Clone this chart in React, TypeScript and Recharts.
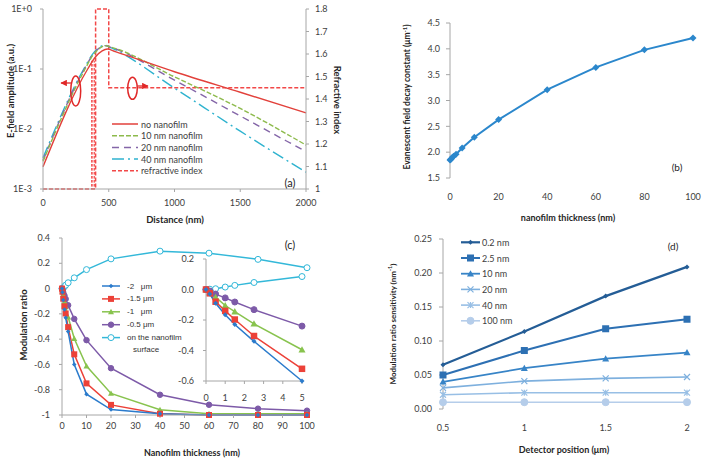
import { LineChart, Line, XAxis, YAxis, ReferenceArea } from "recharts";

const FONT = "Lato, 'Open Sans', sans-serif";
const TICK = { fontSize: 9, fill: "#404040", fontFamily: FONT };
const AXIS = "#a6a6a6";
const MU = "\u03bc";

// (a) E-field amplitude vs distance
const distNo = [0, 340, 400, 450, 490, 550, 1000, 1500, 2000];
const ampNo = [0.00235, 0.1, 0.16, 0.2, 0.215, 0.195, 0.09, 0.041, 0.0186];
const dist10 = [0, 320, 380, 430, 470, 520, 1000, 1500, 2000];
const amp10 = [0.0029, 0.1, 0.17, 0.22, 0.245, 0.23, 0.074, 0.022, 0.0054];
const dist20 = [0, 320, 380, 430, 470, 520, 1000, 1500, 2000];
const amp20 = [0.003, 0.105, 0.175, 0.225, 0.245, 0.228, 0.065, 0.0165, 0.0042];
const dist40 = [0, 310, 380, 430, 470, 520, 1000, 1500, 2000];
const amp40 = [0.0033, 0.1, 0.18, 0.23, 0.25, 0.225, 0.048, 0.0092, 0.0019];
const distIdx = [0, 365, 400, 400, 500, 500, 2000];
const refIdx = [1, 1, 1, 1.8, 1.8, 1.45, 1.45];

// (b) decay constant vs nanofilm thickness
const thickness = [0, 0.2, 0.5, 1, 1.5, 2.5, 5, 10, 20, 40, 60, 80, 100];
const decayConst = [1.85, 1.86, 1.87, 1.9, 1.92, 1.96, 2.08, 2.29, 2.63, 3.21, 3.64, 3.98, 4.21];

// (c) modulation ratio, detector positions
const mod2 = [0, -0.03, -0.09, -0.165, -0.23, -0.34, -0.6, -0.835, -0.957, -0.99, -1, -1, -1];
const mod15 = [0, -0.025, -0.08, -0.14, -0.197, -0.305, -0.52, -0.75, -0.92, -0.99, -1, -1, -1];
const mod1 = [0, -0.02, -0.05, -0.105, -0.145, -0.225, -0.395, -0.613, -0.829, -0.958, -0.99, -0.99, -0.99];
const mod05 = [0, -0.01, -0.03, -0.055, -0.082, -0.132, -0.24, -0.408, -0.63, -0.84, -0.919, -0.95, -0.966];
const modSurf = [0, 0.002, 0.005, 0.016, 0.027, 0.046, 0.085, 0.15, 0.235, 0.296, 0.28, 0.231, 0.165];

// (d) sensitivity vs detector position
const detPos = [0.5, 1, 1.5, 2];
const sens02 = [0.065, 0.114, 0.166, 0.209];
const sens25 = [0.05, 0.086, 0.118, 0.132];
const sens10 = [0.04, 0.06, 0.074, 0.083];
const sens20 = [0.031, 0.041, 0.045, 0.047];
const sens40 = [0.021, 0.024, 0.024, 0.024];
const sens100 = [0.01, 0.01, 0.01, 0.01];

const zip = (xs: number[], ys: number[]) => xs.map((x, i) => ({ x, y: ys[i] }));

const rowsC = thickness.map((t, i) => ({
  t, m2: mod2[i], m15: mod15[i], m1: mod1[i], m05: mod05[i], s: modSurf[i],
}));
const rowsInset = rowsC.filter((r) => r.t <= 5);
const rowsD = detPos.map((p, i) => ({
  p, a: sens02[i], b: sens25[i], c: sens10[i], d: sens20[i], e: sens40[i], f: sens100[i],
}));

type MarkProps = { cx?: number; cy?: number; shape: string; color: string; size: number; fill?: string };

function Mark({ cx, cy, shape, color, size, fill }: MarkProps) {
  if (cx == null || cy == null) return null;
  const s = size / 2;
  switch (shape) {
    case "diamond":
      return <path d={`M${cx},${cy - s}L${cx + s},${cy}L${cx},${cy + s}L${cx - s},${cy}Z`} fill={color} />;
    case "square":
      return <rect x={cx - s} y={cy - s} width={size} height={size} fill={color} />;
    case "triangle":
      return <path d={`M${cx},${cy - s}L${cx + s},${cy + s * 0.8}L${cx - s},${cy + s * 0.8}Z`} fill={color} />;
    case "circle":
      return <circle cx={cx} cy={cy} r={s} fill={fill ?? color} stroke={color} strokeWidth={1} />;
    case "x":
      return <path d={`M${cx - s},${cy - s}L${cx + s},${cy + s}M${cx - s},${cy + s}L${cx + s},${cy - s}`} stroke={color} strokeWidth={1.2} />;
    case "star":
      return (
        <path
          d={`M${cx - s},${cy - s}L${cx + s},${cy + s}M${cx - s},${cy + s}L${cx + s},${cy - s}M${cx},${cy - s}L${cx},${cy + s}`}
          stroke={color}
          strokeWidth={1.2}
        />
      );
    default:
      return null;
  }
}

const dotOf = (shape: string, color: string, size: number, fill?: string) => (p: any) => (
  <Mark key={`m${p.index}`} cx={p.cx} cy={p.cy} shape={shape} color={color} size={size} fill={fill} />
);

const C_BLUE = "#2b7bcc";
const C_RED = "#ec4138";
const C_GREEN = "#88c34e";
const C_PURPLE = "#7d5aa8";
const C_CYAN = "#33b8d9";

const A_RED = "#e2413b";
const A_GREEN = "#8dba4c";
const A_PURPLE = "#8466a8";
const A_CYAN = "#2fb3cf";
const A_IDX = "#f24848";

const legendA = [
  { label: "no nanofilm", color: A_RED, dash: undefined },
  { label: "10 nm nanofilm", color: A_GREEN, dash: "5 2" },
  { label: "20 nm nanofilm", color: A_PURPLE, dash: "7 5" },
  { label: "40 nm nanofilm", color: A_CYAN, dash: "12 4 2 4" },
  { label: "refractive index", color: A_IDX, dash: "4 2" },
];

const legendC = [
  { label: `-2   ${MU}m`, color: C_BLUE, shape: "diamond", size: 4.5 },
  { label: `-1.5 ${MU}m`, color: C_RED, shape: "square", size: 6 },
  { label: `-1   ${MU}m`, color: C_GREEN, shape: "triangle", size: 6 },
  { label: `-0.5 ${MU}m`, color: C_PURPLE, shape: "circle", size: 5.5 },
  { label: "on the nanofilm", color: C_CYAN, shape: "circle", size: 6, fill: "#fff" },
];

const D_COLORS = ["#245d96", "#2d70b3", "#3784c7", "#7eb0de", "#98bfe5", "#b5cdea"];
const legendD = [
  { label: "0.2 nm", key: "a", shape: "diamond", size: 5, width: 2.2 },
  { label: "2.5 nm", key: "b", shape: "square", size: 7, width: 2 },
  { label: "10 nm", key: "c", shape: "triangle", size: 7, width: 1.8 },
  { label: "20 nm", key: "d", shape: "x", size: 6, width: 1.6 },
  { label: "40 nm", key: "e", shape: "star", size: 6, width: 1.6 },
  { label: "100 nm", key: "f", shape: "circle", size: 7, width: 1.6 },
];

const title = { fontFamily: FONT, fontWeight: 700, fill: "#262626" } as const;

function Panel({ left, top, children }: { left: number; top: number; children: any }) {
  return <div style={{ position: "absolute", left, top }}>{children}</div>;
}

export default function App() {
  return (
    <div style={{ position: "absolute", left: 0, top: 0, width: 704, height: 460, background: "#fff", overflow: "hidden" }}>
      {/* (a) */}
      <Panel left={0} top={0}>
        <LineChart width={340} height={230} margin={{ top: 9, right: 0, bottom: 11, left: 0 }}>
          <defs>
            <pattern id="hatchA" width="2.4" height="4" patternUnits="userSpaceOnUse">
              <rect x="0" y="0" width="1.4" height="2.6" fill={A_IDX} />
            </pattern>
          </defs>
          <XAxis type="number" dataKey="x" domain={[0, 2000]} ticks={[0, 500, 1000, 1500, 2000]} tick={TICK}
            tickSize={3} tickMargin={8} stroke={AXIS} height={30} allowDuplicatedCategory={false} />
          <YAxis yAxisId="left" scale="log" domain={[0.001, 1]} ticks={[0.001, 0.01, 0.1, 1]} allowDataOverflow
            width={43} tick={TICK} tickSize={3} tickMargin={8} stroke={AXIS}
            tickFormatter={(v: number) => { const e = Math.round(Math.log10(v)); return "1E" + (e >= 0 ? "+" : "") + e; }} />
          <YAxis yAxisId="right" orientation="right" domain={[1, 1.8]} ticks={[1, 1.1, 1.2, 1.3, 1.4, 1.5, 1.6, 1.7, 1.8]}
            width={34} tick={TICK} tickSize={3} tickMargin={6} stroke={AXIS}
            tickFormatter={(v: number) => (v === 1 ? "1" : v.toFixed(1))} />
          <ReferenceArea yAxisId="right" x1={365} x2={400} y1={1} y2={1.57} fill="url(#hatchA)" fillOpacity={1} stroke="none" ifOverflow="visible" />
          <Line data={zip(distIdx, refIdx)} dataKey="y" yAxisId="right" type="linear" stroke={A_IDX} strokeWidth={1.5}
            strokeDasharray="4 2" dot={false} isAnimationActive={false} />
          <Line data={zip(dist40, amp40)} dataKey="y" yAxisId="left" type="monotone" stroke={A_CYAN} strokeWidth={1.4}
            strokeDasharray="12 4 2 4" dot={false} isAnimationActive={false} />
          <Line data={zip(dist20, amp20)} dataKey="y" yAxisId="left" type="monotone" stroke={A_PURPLE} strokeWidth={1.4}
            strokeDasharray="7 5" dot={false} isAnimationActive={false} />
          <Line data={zip(dist10, amp10)} dataKey="y" yAxisId="left" type="monotone" stroke={A_GREEN} strokeWidth={1.4}
            strokeDasharray="5 2" dot={false} isAnimationActive={false} />
          <Line data={zip(distNo, ampNo)} dataKey="y" yAxisId="left" type="monotone" stroke={A_RED} strokeWidth={1.4}
            dot={false} isAnimationActive={false} />
        </LineChart>
      </Panel>

      {/* (b) */}
      <Panel left={340} top={0}>
        <LineChart width={364} height={230} data={thickness.map((t, i) => ({ t, k: decayConst[i] }))}
          margin={{ top: 23, right: 11, bottom: 22, left: 70 }}>
          <XAxis type="number" dataKey="t" domain={[0, 100]} ticks={[0, 20, 40, 60, 80, 100]} tick={TICK}
            axisLine={false} tickLine={false} tickSize={4} tickMargin={12} height={30} />
          <YAxis domain={[1.5, 4.5]} ticks={[1.5, 2, 2.5, 3, 3.5, 4, 4.5]} width={40} tick={TICK} tickSize={4} tickMargin={6}
            stroke={AXIS} tickFormatter={(v: number) => v.toFixed(1)} />
          <Line dataKey="k" type="linear" stroke="#2b87cc" strokeWidth={2} dot={dotOf("diamond", "#2b87cc", 7)} isAnimationActive={false} />
        </LineChart>
      </Panel>

      {/* (c) */}
      <Panel left={0} top={225}>
        <LineChart width={340} height={235} data={rowsC} margin={{ top: 13, right: 33, bottom: 15, left: 0 }}>
          <XAxis type="number" dataKey="t" domain={[0, 100]} ticks={[0, 10, 20, 30, 40, 50, 60, 70, 80, 90, 100]} tick={TICK}
            tickSize={3} tickMargin={5} stroke={AXIS} height={30} />
          <YAxis domain={[-1, 0.4]} ticks={[-1, -0.8, -0.6, -0.4, -0.2, 0, 0.2, 0.4]} width={62} tick={TICK}
            tickSize={3} tickMargin={9} stroke={AXIS} tickFormatter={(v: number) => String(Math.round(v * 10) / 10)} />
          <Line dataKey="s" type="linear" stroke={C_CYAN} strokeWidth={1.5} dot={dotOf("circle", C_CYAN, 6, "#fff")} isAnimationActive={false} />
          <Line dataKey="m05" type="linear" stroke={C_PURPLE} strokeWidth={1.5} dot={dotOf("circle", C_PURPLE, 5.5)} isAnimationActive={false} />
          <Line dataKey="m1" type="linear" stroke={C_GREEN} strokeWidth={1.5} dot={dotOf("triangle", C_GREEN, 6)} isAnimationActive={false} />
          <Line dataKey="m15" type="linear" stroke={C_RED} strokeWidth={1.5} dot={dotOf("square", C_RED, 6)} isAnimationActive={false} />
          <Line dataKey="m2" type="linear" stroke={C_BLUE} strokeWidth={1.5} dot={dotOf("diamond", C_BLUE, 4.5)} isAnimationActive={false} />
        </LineChart>
      </Panel>

      {/* (c) inset */}
      <Panel left={150} top={250}>
        <LineChart width={160} height={160} data={rowsInset} margin={{ top: 9, right: 8, bottom: 4, left: 0 }}>
          <XAxis type="number" dataKey="t" domain={[0, 5]} ticks={[0, 1, 2, 3, 4, 5]} tick={TICK}
            tickSize={3} tickMargin={11} stroke={AXIS} height={25} />
          <YAxis domain={[-0.6, 0.2]} ticks={[-0.6, -0.4, -0.2, 0, 0.2]} width={56} tick={TICK} tickSize={3} tickMargin={9}
            stroke={AXIS} tickFormatter={(v: number) => v.toFixed(1)} />
          <Line dataKey="s" type="linear" stroke={C_CYAN} strokeWidth={1.5} dot={dotOf("circle", C_CYAN, 6, "#fff")} isAnimationActive={false} />
          <Line dataKey="m05" type="linear" stroke={C_PURPLE} strokeWidth={1.5} dot={dotOf("circle", C_PURPLE, 6)} isAnimationActive={false} />
          <Line dataKey="m1" type="linear" stroke={C_GREEN} strokeWidth={1.5} dot={dotOf("triangle", C_GREEN, 7)} isAnimationActive={false} />
          <Line dataKey="m15" type="linear" stroke={C_RED} strokeWidth={1.5} dot={dotOf("square", C_RED, 6.5)} isAnimationActive={false} />
          <Line dataKey="m2" type="linear" stroke={C_BLUE} strokeWidth={1.5} dot={dotOf("diamond", C_BLUE, 5)} isAnimationActive={false} />
        </LineChart>
      </Panel>

      {/* (d) */}
      <Panel left={340} top={225}>
        <LineChart width={364} height={235} data={rowsD} margin={{ top: 14, right: 17, bottom: 21, left: 53 }}>
          <XAxis type="number" dataKey="p" domain={[0.5, 2]} ticks={[0.5, 1, 1.5, 2]} tick={TICK}
            axisLine={false} tickLine={false} tickSize={4} tickMargin={12} height={30} />
          <YAxis domain={[0, 0.25]} ticks={[0, 0.05, 0.1, 0.15, 0.2, 0.25]} width={50} tick={TICK} tickSize={4} tickMargin={7}
            stroke={AXIS} tickFormatter={(v: number) => v.toFixed(2)} />
          {legendD.slice().reverse().map((s) => {
            const c = D_COLORS[legendD.indexOf(s)];
            return (
              <Line key={s.key} dataKey={s.key} type="linear" stroke={c} strokeWidth={s.width}
                dot={dotOf(s.shape, c, s.size)} isAnimationActive={false} />
            );
          })}
        </LineChart>
      </Panel>

      {/* titles, legends, annotations */}
      <svg width={704} height={460} style={{ position: "absolute", left: 0, top: 0, pointerEvents: "none" }}>
        <defs>
          <marker id="arr" viewBox="0 0 10 10" refX="9" refY="5" markerWidth="5" markerHeight="5" orient="auto">
            <path d="M0,0L10,5L0,10Z" fill="#e02828" />
          </marker>
        </defs>

        {/* (a) */}
        <text x={10} y={91} transform="rotate(-90 10 91)" textAnchor="middle" dominantBaseline="central" fontSize={9.5} {...title}>
          E-field amplitude (a.u.)
        </text>
        <text x={337} y={100} transform="rotate(90 337 100)" textAnchor="middle" dominantBaseline="central" fontSize={9.5} {...title}>
          Refractive index
        </text>
        <text x={175} y={219} textAnchor="middle" dominantBaseline="central" fontSize={9.5} {...title}>Distance (nm)</text>
        <text x={290} y={182} textAnchor="middle" dominantBaseline="central" fontSize={11} fontFamily={FONT} fill="#262626">(a)</text>
        {legendA.map((l, i) => (
          <g key={l.label}>
            <line x1={112} x2={138} y1={124 + i * 11.7} y2={124 + i * 11.7} stroke={l.color} strokeWidth={1.5} strokeDasharray={l.dash} />
            <text x={141} y={124 + i * 11.7} dominantBaseline="central" fontSize={9} fontFamily={FONT} fill="#404040">{l.label}</text>
          </g>
        ))}
        <ellipse cx={75.7} cy={91} rx={5} ry={15} fill="none" stroke="#e02828" strokeWidth={1.5} />
        <line x1={71} y1={83} x2={61} y2={83} stroke="#e02828" strokeWidth={1.3} markerEnd="url(#arr)" />
        <ellipse cx={132.5} cy={88.3} rx={4.8} ry={11} fill="none" stroke="#e02828" strokeWidth={1.5} />
        <line x1={137.5} y1={86} x2={148} y2={86} stroke="#e02828" strokeWidth={1.3} markerEnd="url(#arr)" />

        {/* (b) */}
        <text x={407} y={97} transform="rotate(-90 407 97)" textAnchor="middle" dominantBaseline="central" fontSize={8.5} {...title}>
          {`Evanescent field decay constant (${MU}m`}<tspan dy={-3} fontSize={6}>-1</tspan><tspan dy={3}>)</tspan>
        </text>
        <text x={568} y={217} textAnchor="middle" dominantBaseline="central" fontSize={9} {...title}>nanofilm thickness (nm)</text>
        <text x={677} y={167} textAnchor="middle" dominantBaseline="central" fontSize={10} fontFamily={FONT} fill="#262626">(b)</text>

        {/* (c) */}
        <text x={23} y={325} transform="rotate(-90 23 325)" textAnchor="middle" dominantBaseline="central" fontSize={9.5} {...title}>
          Modulation ratio
        </text>
        <text x={192} y={452} textAnchor="middle" dominantBaseline="central" fontSize={9} {...title}>Nanofilm thickness (nm)</text>
        <text x={290} y={244} textAnchor="middle" dominantBaseline="central" fontSize={11} fontFamily={FONT} fill="#262626">(c)</text>
        {legendC.map((l, i) => {
          const y = 286 + i * 12.9;
          return (
            <g key={l.label}>
              <line x1={102} x2={120} y1={y} y2={y} stroke={l.color} strokeWidth={1.5} />
              <Mark cx={111} cy={y} shape={l.shape} color={l.color} size={l.size} fill={l.fill} />
              <text x={127} y={y} dominantBaseline="central" fontSize={8} fontFamily="'Liberation Sans', Arial, sans-serif"
                fill="#333" style={{ whiteSpace: "pre" }}>{l.label}</text>
            </g>
          );
        })}
        <text x={133} y={349} dominantBaseline="central" fontSize={8} fontFamily="'Liberation Sans', Arial, sans-serif" fill="#333">surface</text>

        {/* (d) */}
        <text x={393} y={324} transform="rotate(-90 393 324)" textAnchor="middle" dominantBaseline="central" fontSize={8} {...title}>
          Modulation ratio sensitivity (nm<tspan dy={-3} fontSize={5.5}>-1</tspan><tspan dy={3}>)</tspan>
        </text>
        <text x={564} y={449} textAnchor="middle" dominantBaseline="central" fontSize={9} {...title}>{`Detector position (${MU}m)`}</text>
        <text x={673} y={246} textAnchor="middle" dominantBaseline="central" fontSize={10} fontFamily={FONT} fill="#262626">(d)</text>
        {legendD.map((l, i) => {
          const y = 242.3 + i * 15.7;
          const c = D_COLORS[i];
          return (
            <g key={l.label}>
              <line x1={461} x2={480} y1={y} y2={y} stroke={c} strokeWidth={l.width} />
              <Mark cx={470.5} cy={y} shape={l.shape} color={c} size={l.size} />
              <text x={482} y={y} dominantBaseline="central" fontSize={9} fontFamily={FONT} fill="#404040">{l.label}</text>
            </g>
          );
        })}
      </svg>
    </div>
  );
}
